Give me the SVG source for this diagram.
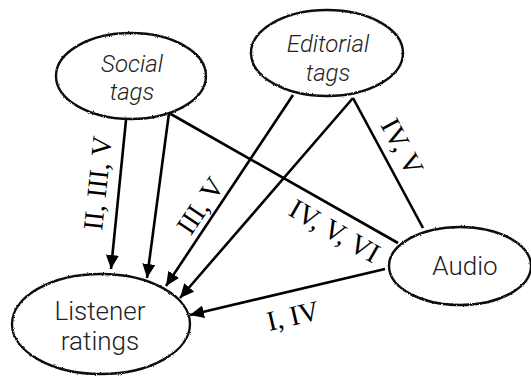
<svg xmlns="http://www.w3.org/2000/svg" width="531" height="376" viewBox="0 0 531 376">
<style>
.node{fill:#fff;stroke:#111;stroke-width:2.4;filter:url(#rough)}
.edge{stroke:#000;stroke-width:2.6;fill:none}
.arr{marker-end:url(#ah)}
.nt{font-family:Roboto,"Liberation Sans",Arial,sans-serif;font-weight:300;font-size:26px;fill:#222;text-anchor:middle}
.it{font-style:italic;font-size:24px}
.lb{font-family:"Liberation Serif","Times New Roman",serif;font-size:28px;fill:#000;text-anchor:middle}
</style>
<defs>
<marker id="ah" markerUnits="userSpaceOnUse" markerWidth="15" markerHeight="13" refX="14" refY="6.5" orient="auto">
<path d="M0,0 L14,6.5 L0,13 z" fill="#000"/>
</marker>
<filter id="rough" x="-5%" y="-5%" width="110%" height="110%">
<feTurbulence type="fractalNoise" baseFrequency="0.9" numOctaves="2" seed="3" result="n"/>
<feDisplacementMap in="SourceGraphic" in2="n" scale="2.2" xChannelSelector="R" yChannelSelector="G"/>
</filter>
</defs>
<g id="connectors">
<line class="edge arr" x1="126" y1="120" x2="111" y2="269"/>
<line class="edge arr" x1="169" y1="113" x2="147" y2="278"/>
<line class="edge" x1="169" y1="113" x2="398" y2="243"/>
<line class="edge arr" x1="293" y1="95" x2="166" y2="286"/>
<line class="edge arr" x1="353" y1="98" x2="180" y2="298"/>
<line class="edge" x1="353" y1="98" x2="423" y2="228"/>
<line class="edge arr" x1="385" y1="269" x2="190" y2="315"/>
<text class="lb" transform="translate(107,184) rotate(-84)">II, III, V</text>
<text class="lb" transform="translate(208,211) rotate(-56)">III, V</text>
<text class="lb" transform="translate(394,151) rotate(62)">IV, V</text>
<text class="lb" transform="translate(330,239) rotate(30)">IV, V, VI</text>
<text class="lb" transform="translate(295,325) rotate(-13)">I, IV</text>
</g>
<g id="social">
<ellipse class="node" cx="131" cy="76" rx="75" ry="43"/>
<text class="nt it" x="132" y="72">Social</text>
<text class="nt it" x="132" y="100">tags</text>
</g>
<g id="editorial">
<ellipse class="node" cx="327" cy="53" rx="76" ry="43"/>
<text class="nt it" x="328" y="52">Editorial</text>
<text class="nt it" x="328" y="81">tags</text>
</g>
<g id="listener">
<ellipse class="node" cx="101" cy="324" rx="89" ry="50"/>
<text class="nt" x="100" y="320">Listener</text>
<text class="nt" x="100" y="350">ratings</text>
</g>
<g id="audio">
<ellipse class="node" cx="460" cy="266" rx="71" ry="39"/>
<text class="nt" x="465" y="275">Audio</text>
</g>
</svg>
